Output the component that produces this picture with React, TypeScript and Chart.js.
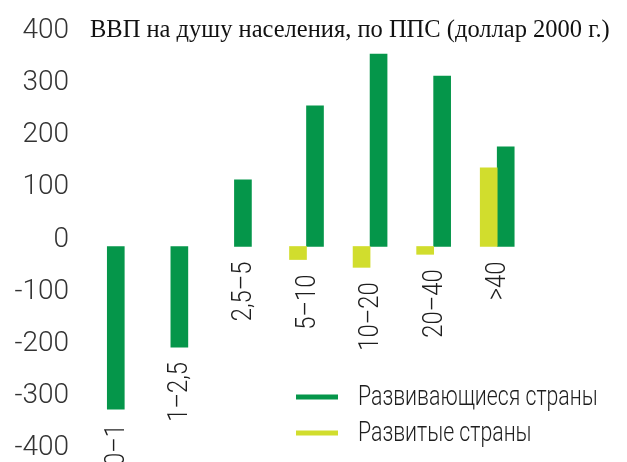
import React, { useEffect, useRef } from "react";
import { Chart, registerables } from "chart.js";

Chart.register(...registerables);

const titleText = "ВВП на душу населения, по ППС (доллар 2000 г.)";
const categories = ["0–1", "1–2,5", "2,5–5", "5–10", "10–20", "20–40", ">40"];
const developing = [-312, -193, 128, 270, 369, 327, 191];
const developed: (number | null)[] = [null, null, null, -25, -40, -15, 151];
const developingLabel = "Развивающиеся страны";
const developedLabel = "Развитые страны";
const yMin = -400;
const yMax = 400;
const yStep = 100;

const GREEN = "#05964a";
const YELLOW = "#d1dd2d";
const FONT = "Roboto";
const TEXT = "#1e1e1e";

function drawScaledText(ctx: CanvasRenderingContext2D, text: string, x: number, y: number, sx: number, rot = 0) {
  ctx.save();
  ctx.translate(x, y);
  if (rot) ctx.rotate(rot);
  ctx.scale(sx, 1);
  ctx.fillText(text, 0, 0);
  ctx.restore();
}

const overlayPlugin = {
  id: "overlayText",
  afterDraw(chart: any) {
    const ctx = chart.ctx as CanvasRenderingContext2D;
    const xs = chart.scales.x;
    const ys = chart.scales.y;
    const area = chart.chartArea;
    ctx.save();
    // title
    ctx.fillStyle = "#111111";
    ctx.font = "24.5px 'Liberation Serif', 'Times New Roman', serif";
    ctx.textAlign = "left";
    ctx.textBaseline = "alphabetic";
    ctx.fillText(titleText, area.left + 6, 37);

    // category labels, rotated, under the lowest end of each group
    ctx.fillStyle = TEXT;
    ctx.font = `300 28px ${FONT}`;
    ctx.textAlign = "right";
    ctx.textBaseline = "middle";
    categories.forEach((c, i) => {
      const vals = chart.data.datasets
        .map((d: any) => d.data[i])
        .filter((v: any) => v !== null && v !== undefined);
      const low = Math.min(0, ...vals);
      const x = xs.getPixelForValue(i) + 1;
      const y = ys.getPixelForValue(low) + 15;
      drawScaledText(ctx, c, x, y, 0.85, -Math.PI / 2);
    });

    // legend
    const items = [chart.data.datasets[1], chart.data.datasets[0]];
    ctx.font = `300 28px ${FONT}`;
    ctx.textAlign = "left";
    ctx.textBaseline = "middle";
    items.forEach((d: any, k: number) => {
      const cy = 397 + k * 36;
      ctx.fillStyle = d.backgroundColor;
      ctx.fillRect(296, cy - 2.5, 42, 5);
      ctx.fillStyle = TEXT;
      drawScaledText(ctx, d.label, 358, cy + 1, 0.76);
    });
    ctx.restore();
  },
};

export default function App() {
  const ref = useRef<HTMLCanvasElement | null>(null);
  useEffect(() => {
    document.body.style.margin = "0";
    if (!ref.current) return;
    const chart = new Chart(ref.current, {
      type: "bar",
      data: {
        labels: categories,
        datasets: [
          { label: developedLabel, data: developed, backgroundColor: YELLOW, barThickness: 17 },
          { label: developingLabel, data: developing, backgroundColor: GREEN, barThickness: 17 },
        ],
      },
      options: {
        animation: false,
        responsive: true,
        maintainAspectRatio: false,
        skipNull: true,
        layout: { padding: { top: 38, bottom: 7, left: 0, right: 98 } },
        plugins: {
          legend: { display: false },
          tooltip: { enabled: false },
          title: { display: false },
        },
        scales: {
          x: { display: false, grid: { display: false } },
          y: {
            min: yMin,
            max: yMax,
            grid: { display: false },
            border: { display: false },
            ticks: {
              stepSize: yStep,
              color: "#333333",
              font: { family: FONT, size: 28, weight: "300" },
              padding: 7,
              labelOffset: -7,
            },
            afterFit(s: any) {
              s.width = 84;
              s.paddingTop = 0;
              s.paddingBottom = 0;
            },
          },
        },
      } as any,
      plugins: [overlayPlugin],
    });
    return () => chart.destroy();
  }, []);
  return (
    <div style={{ position: "relative", width: 627, height: 462 }}>
      <canvas ref={ref} />
    </div>
  );
}
